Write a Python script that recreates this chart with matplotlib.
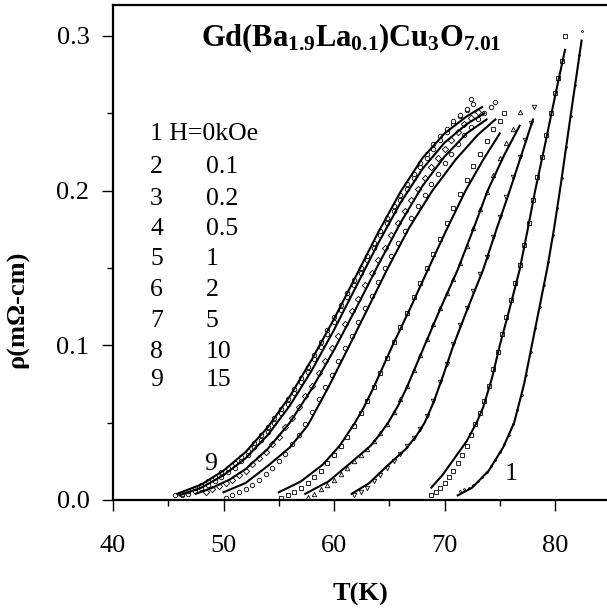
import matplotlib
matplotlib.use("Agg")
import matplotlib.pyplot as plt
from matplotlib.ticker import MultipleLocator

plt.rcParams['font.family'] = 'Liberation Serif'
plt.rcParams['mathtext.fontset'] = 'custom'
plt.rcParams['mathtext.rm'] = 'Liberation Serif'
plt.rcParams['mathtext.bf'] = 'Liberation Serif:bold'
plt.rcParams['mathtext.it'] = 'Liberation Serif:italic'

# field labels (kOe)
fields = ["H=0kOe", "0.1", "0.2", "0.5", "1", "2", "5", "10", "15"]

# fitted curves (T in K, rho in mOhm-cm)
fit1_T = [71.2, 72.5, 74.0, 75.3, 76.3, 77.2, 77.9, 78.6, 79.3, 79.9, 80.5, 81.4, 82.4]
fit1_R = [0.003, 0.008, 0.019, 0.034, 0.050, 0.075, 0.100, 0.125, 0.150, 0.175, 0.203, 0.248, 0.297]
fit2_T = [68.8, 69.8, 70.8, 72.0, 72.9, 73.5, 74.3, 75.0, 75.9, 76.8, 77.5, 78.2, 79.1, 80.0, 80.9]
fit2_R = [0.008, 0.016, 0.026, 0.038, 0.050, 0.060, 0.079, 0.100, 0.124, 0.149, 0.174, 0.200, 0.230, 0.261, 0.291]
fit3_T = [61.6, 63.2, 64.8, 66.5, 67.5, 68.2, 69.0, 69.9, 70.8, 72.1, 73.5, 74.7, 75.9, 77.0, 78.0]
fit3_R = [0.004, 0.011, 0.022, 0.033, 0.042, 0.050, 0.063, 0.081, 0.100, 0.124, 0.149, 0.175, 0.200, 0.224, 0.246]
fit4_T = [57.4, 59.5, 61.5, 63.3, 64.1, 64.9, 65.8, 66.6, 68.2, 69.7, 71.2, 72.6, 73.9, 75.4, 76.8]
fit4_R = [0.004, 0.012, 0.024, 0.035, 0.042, 0.050, 0.061, 0.073, 0.100, 0.125, 0.149, 0.175, 0.200, 0.223, 0.242]
fit5_T = [55.0, 57.0, 59.0, 60.5, 61.9, 62.7, 63.6, 65.3, 66.9, 68.5, 70.2, 71.9, 73.5, 75.0]
fit5_R = [0.005, 0.012, 0.023, 0.035, 0.050, 0.060, 0.073, 0.100, 0.124, 0.149, 0.175, 0.200, 0.220, 0.237]
fit6_T = [50.0, 52.0, 54.0, 56.0, 57.6, 59.5, 61.4, 63.0, 64.8, 66.8, 68.9, 71.0, 73.0, 74.6]
fit6_R = [0.005, 0.011, 0.022, 0.034, 0.048, 0.073, 0.100, 0.123, 0.149, 0.176, 0.200, 0.220, 0.236, 0.246]
fit7_T = [47.5, 49.0, 50.5, 52.0, 54.0, 56.0, 58.0, 60.0, 62.0, 64.0, 66.0, 68.0, 70.0, 72.0, 73.8]
fit7_R = [0.004, 0.008, 0.013, 0.020, 0.033, 0.050, 0.072, 0.097, 0.124, 0.152, 0.179, 0.203, 0.222, 0.237, 0.246]
fit8_T = [46.0, 48.0, 50.0, 52.0, 54.0, 56.0, 58.0, 60.0, 62.0, 64.0, 66.0, 68.0, 70.0, 72.0, 73.6]
fit8_R = [0.003, 0.008, 0.016, 0.027, 0.042, 0.061, 0.084, 0.110, 0.138, 0.166, 0.192, 0.214, 0.231, 0.243, 0.250]
fit9_T = [45.8, 48.0, 50.0, 52.0, 54.0, 56.0, 58.0, 60.0, 62.0, 64.0, 66.0, 68.0, 70.0, 72.0, 73.4]
fit9_R = [0.004, 0.010, 0.019, 0.031, 0.047, 0.067, 0.091, 0.117, 0.145, 0.173, 0.199, 0.221, 0.237, 0.248, 0.254]

# measured points
dat1_T = [71.4, 71.8, 72.2, 72.6, 73.0, 73.4, 73.8, 74.2, 74.6, 75.0, 75.4, 75.8, 76.2, 76.6, 77.0,
          77.4, 77.8, 78.2, 78.6, 79.0, 79.4, 79.8, 80.2, 80.6, 81.0, 81.4, 81.8, 82.2, 82.4]
dat1_R = [0.006, 0.007, 0.008, 0.010, 0.012, 0.015, 0.018, 0.022, 0.026, 0.031, 0.036, 0.042, 0.049, 0.058, 0.068,
          0.081, 0.096, 0.111, 0.125, 0.139, 0.154, 0.171, 0.189, 0.208, 0.228, 0.248, 0.268, 0.288, 0.303]
dat2_T = [68.8, 69.2, 69.6, 70.0, 70.4, 70.8, 71.2, 71.6, 72.0, 72.4, 72.8, 73.2, 73.6, 74.0, 74.4, 74.8,
          75.2, 75.6, 76.0, 76.4, 76.8, 77.2, 77.6, 78.0, 78.4, 78.8, 79.2, 79.6, 80.0, 80.3, 80.6, 80.9]
dat2_R = [0.003, 0.005, 0.008, 0.011, 0.015, 0.019, 0.024, 0.029, 0.035, 0.042, 0.049, 0.056, 0.064, 0.074, 0.085, 0.096,
          0.107, 0.118, 0.129, 0.140, 0.152, 0.165, 0.179, 0.194, 0.209, 0.222, 0.236, 0.250, 0.263, 0.273, 0.284, 0.300]
dat3_T = [61.8, 62.4, 63.0, 63.6, 64.2, 64.8, 65.4, 66.0, 66.6, 67.2, 67.8, 68.4, 69.0, 69.6, 70.2,
          70.8, 71.4, 72.0, 72.6, 73.2, 73.8, 74.4, 75.0, 75.6, 76.2, 76.8, 77.3, 77.8, 78.1]
dat3_R = [0.003, 0.005, 0.008, 0.012, 0.016, 0.021, 0.025, 0.030, 0.035, 0.040, 0.046, 0.054, 0.064, 0.076, 0.088,
          0.101, 0.113, 0.124, 0.135, 0.146, 0.157, 0.170, 0.183, 0.196, 0.209, 0.222, 0.233, 0.244, 0.254]
dat4_T = [57.6, 58.2, 58.8, 59.4, 60.0, 60.6, 61.2, 61.8, 62.4, 63.0, 63.6, 64.2, 64.8, 65.4, 66.0, 66.6, 67.2,
          67.8, 68.4, 69.0, 69.6, 70.2, 70.8, 71.4, 72.0, 72.6, 73.2, 73.8, 74.4, 75.0, 75.6, 76.2, 76.8]
dat4_R = [0.002, 0.004, 0.007, 0.010, 0.013, 0.017, 0.021, 0.025, 0.029, 0.033, 0.038, 0.043, 0.049, 0.057, 0.065, 0.074, 0.084,
          0.094, 0.104, 0.114, 0.124, 0.134, 0.143, 0.153, 0.164, 0.176, 0.188, 0.199, 0.210, 0.221, 0.231, 0.240, 0.251]
dat5_T = [55.2, 55.8, 56.4, 57.0, 57.6, 58.2, 58.8, 59.4, 60.0, 60.6, 61.2, 61.8, 62.4, 63.0, 63.6, 64.2, 64.8, 65.4,
          66.0, 66.6, 67.2, 67.8, 68.4, 69.0, 69.6, 70.2, 70.8, 71.4, 72.0, 72.6, 73.2, 73.8, 74.4, 75.0, 75.4]
dat5_R = [0.001, 0.003, 0.005, 0.008, 0.011, 0.015, 0.019, 0.024, 0.029, 0.035, 0.041, 0.048, 0.056, 0.064, 0.073, 0.082, 0.092, 0.102,
          0.112, 0.121, 0.131, 0.140, 0.150, 0.159, 0.169, 0.179, 0.189, 0.198, 0.207, 0.216, 0.224, 0.232, 0.240, 0.245, 0.250]
dat6_T = [50.2, 50.8, 51.4, 52.0, 52.6, 53.2, 53.8, 54.4, 55.0, 55.6, 56.2, 56.8, 57.4, 58.0, 58.6, 59.2, 59.8, 60.4, 61.0, 61.6, 62.2,
          62.8, 63.4, 64.0, 64.6, 65.2, 65.8, 66.4, 67.0, 67.6, 68.2, 68.8, 69.4, 70.0, 70.6, 71.2, 71.8, 72.4, 73.0, 73.6, 74.2, 74.6]
dat6_R = [0.001, 0.003, 0.005, 0.007, 0.010, 0.013, 0.017, 0.021, 0.025, 0.030, 0.036, 0.042, 0.049, 0.057, 0.065, 0.073, 0.081, 0.090, 0.098, 0.106, 0.115,
          0.124, 0.132, 0.141, 0.150, 0.158, 0.166, 0.174, 0.182, 0.190, 0.197, 0.204, 0.211, 0.218, 0.224, 0.230, 0.236, 0.241, 0.246, 0.250, 0.254, 0.257]
dat7_T = [48.4, 49.0, 49.6, 50.2, 50.8, 51.4, 52.0, 52.6, 53.2, 53.8, 54.4, 55.0, 55.6, 56.2, 56.8, 57.4, 58.0, 58.6, 59.2, 59.8, 60.4,
          61.0, 61.6, 62.2, 62.8, 63.4, 64.0, 64.6, 65.2, 65.8, 66.4, 67.0, 67.6, 68.2, 68.8, 69.4, 70.0, 70.6, 71.2, 71.8, 72.4, 73.0]
dat7_R = [0.005, 0.007, 0.009, 0.011, 0.013, 0.016, 0.019, 0.023, 0.027, 0.031, 0.036, 0.041, 0.047, 0.053, 0.060, 0.067, 0.074, 0.082, 0.090, 0.098, 0.106,
          0.114, 0.122, 0.130, 0.139, 0.147, 0.155, 0.163, 0.171, 0.179, 0.187, 0.194, 0.201, 0.208, 0.215, 0.221, 0.227, 0.233, 0.238, 0.243, 0.247, 0.251]
dat8_T = [46.2, 46.8, 47.4, 48.0, 48.6, 49.2, 49.8, 50.4, 51.0, 51.6, 52.2, 52.8, 53.4, 54.0, 54.6, 55.2, 55.8, 56.4, 57.0, 57.6, 58.2, 58.8, 59.4,
          60.0, 60.6, 61.2, 61.8, 62.4, 63.0, 63.6, 64.2, 64.8, 65.4, 66.0, 66.6, 67.2, 67.8, 68.4, 69.0, 69.6, 70.2, 70.8, 71.4, 72.0, 72.6]
dat8_R = [0.003, 0.004, 0.006, 0.008, 0.010, 0.012, 0.015, 0.018, 0.021, 0.025, 0.029, 0.034, 0.039, 0.044, 0.050, 0.056, 0.062, 0.069, 0.076, 0.083, 0.091, 0.099, 0.107,
          0.115, 0.123, 0.131, 0.139, 0.147, 0.155, 0.163, 0.171, 0.179, 0.187, 0.194, 0.201, 0.208, 0.215, 0.221, 0.227, 0.233, 0.238, 0.243, 0.248, 0.252, 0.256]
dat9_T = [45.6, 46.2, 46.8, 47.4, 48.0, 48.6, 49.2, 49.8, 50.4, 51.0, 51.6, 52.2, 52.8, 53.4, 54.0, 54.6, 55.2, 55.8, 56.4, 57.0, 57.6, 58.2, 58.8,
          59.4, 60.0, 60.6, 61.2, 61.8, 62.4, 63.0, 63.6, 64.2, 64.8, 65.4, 66.0, 66.6, 67.2, 67.8, 68.4, 69.0, 69.6, 70.2, 70.8, 71.4, 72.0, 72.4]
dat9_R = [0.003, 0.004, 0.006, 0.008, 0.010, 0.012, 0.015, 0.018, 0.021, 0.024, 0.028, 0.032, 0.037, 0.042, 0.047, 0.053, 0.059, 0.065, 0.072, 0.079, 0.086, 0.094, 0.102,
          0.110, 0.118, 0.126, 0.134, 0.142, 0.150, 0.158, 0.166, 0.174, 0.182, 0.190, 0.197, 0.204, 0.211, 0.218, 0.224, 0.230, 0.235, 0.240, 0.245, 0.249, 0.253, 0.259]

fits = [(fit1_T, fit1_R), (fit2_T, fit2_R), (fit3_T, fit3_R), (fit4_T, fit4_R), (fit5_T, fit5_R),
        (fit6_T, fit6_R), (fit7_T, fit7_R), (fit8_T, fit8_R), (fit9_T, fit9_R)]
dats = [(dat1_T, dat1_R), (dat2_T, dat2_R), (dat3_T, dat3_R), (dat4_T, dat4_R), (dat5_T, dat5_R),
        (dat6_T, dat6_R), (dat7_T, dat7_R), (dat8_T, dat8_R), (dat9_T, dat9_R)]
markers = ['.', 's', 'v', '^', 's', 'o', 'D', 'o', 'o']

fig = plt.figure(figsize=(6.07, 6.12), dpi=100)
ax = fig.add_axes([113/607, 1-500/612, 494/607, 495/612])

for (t, r), m in zip(dats, markers):
    ms = 2.5 if m == '.' else 3.2
    ax.plot(t, r, linestyle='none', marker=m, ms=ms, mfc='white', mec='black', mew=0.6, color='black')
for t, r in fits:
    ax.plot(t, r, color='black', lw=1.5)

ax.set_xlim(40, 84.7)
ax.set_ylim(0, 0.32)
ax.xaxis.set_major_locator(MultipleLocator(10))
ax.xaxis.set_minor_locator(MultipleLocator(5))
ax.set_yticks([0.0, 0.1, 0.2, 0.3])
ax.set_yticklabels(["0.0", "0.1", "0.2", "0.3"])
ax.yaxis.set_minor_locator(MultipleLocator(0.05))
ax.tick_params(which='major', direction='out', length=8, width=1, labelsize=19)
ax.tick_params(which='minor', direction='out', length=4, width=1)
ax.tick_params(axis='y', pad=9)
ax.tick_params(axis='x', pad=17)

ax.spines['right'].set_visible(False)
for s in ['left', 'top', 'bottom']:
    ax.spines[s].set_linewidth(1.6)

ax.set_xlabel('T(K)', fontsize=19, fontweight='bold')
ax.xaxis.set_label_coords(0.5, -0.168)
ax.set_ylabel('ρ(mΩ-cm)', fontsize=19, fontweight='bold')
ax.yaxis.set_label_coords(-0.17, 0.386)

ax.text(0.482, 0.933, r'$\mathbf{Gd(Ba_{1.9}La_{0.1})Cu_{3}O_{7.01}}$', transform=ax.transAxes,
        ha='center', va='center', fontsize=22)

# field list
row_y = [0.2365, 0.2155, 0.1945, 0.1750, 0.1560, 0.1355, 0.1160, 0.0960, 0.0775]
for i, (f, y) in enumerate(zip(fields, row_y)):
    if i == 0:
        ax.text(43.35, y, "1 " + f, ha='left', va='center', fontsize=18.5)
    else:
        ax.text(43.35, y, str(i + 1), ha='left', va='center', fontsize=18.5)
        ax.text(48.4, y, f, ha='left', va='center', fontsize=18.5)

ax.text(48.8, 0.023, "9", ha='center', va='center', fontsize=18.5)
ax.text(76.0, 0.017, "1", ha='center', va='center', fontsize=18.5)

fig.savefig('out.png', dpi=100)
